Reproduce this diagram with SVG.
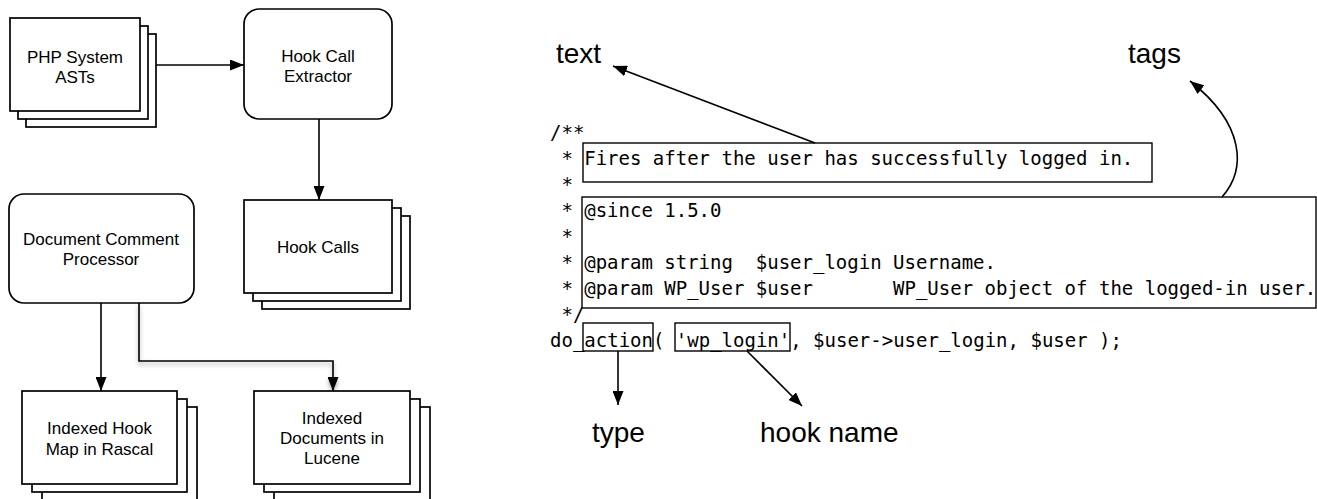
<svg xmlns="http://www.w3.org/2000/svg" width="1317" height="499" viewBox="0 0 1317 499">
<style>
.box{fill:#fff;stroke:#000;stroke-width:1.7}
.node{font-family:"Liberation Sans",Arial,sans-serif;font-size:17px;fill:#000;text-anchor:middle}
.lbl{font-family:"Liberation Sans",Arial,sans-serif;font-size:28px;fill:#000}
.code{font-family:"DejaVu Sans Mono","Liberation Mono",monospace;font-size:19px;fill:#000;white-space:pre}
.cbox{fill:#fff;stroke:#000;stroke-width:1.4}
.conn{fill:none;stroke:#000;stroke-width:1.6}
</style>
<defs>
<marker id="ah" viewBox="0 0 14 11" refX="14" refY="5.5" markerWidth="14" markerHeight="11" markerUnits="userSpaceOnUse" orient="auto">
<path d="M0,0 L14,5.5 L0,11 Z" fill="#000"/>
</marker>
<filter id="sh" x="-20%" y="-20%" width="140%" height="140%">
<feGaussianBlur in="SourceAlpha" stdDeviation="2"/>
<feOffset dx="0" dy="3" result="b"/>
<feComponentTransfer><feFuncA type="linear" slope="0.35"/></feComponentTransfer>
<feMerge><feMergeNode/><feMergeNode in="SourceGraphic"/></feMerge>
</filter>
</defs>
<rect width="1317" height="499" fill="#fff"/>

<g id="connectors">
<line class="conn" x1="156" y1="65" x2="244" y2="65" marker-end="url(#ah)"/>
<line class="conn" x1="319" y1="119" x2="319" y2="200" marker-end="url(#ah)"/>
<line class="conn" x1="244" y1="248" x2="195" y2="248" marker-end="url(#ah)" filter="url(#sh)"/>
<line class="conn" x1="101" y1="303" x2="101" y2="391" marker-end="url(#ah)"/>
<polyline class="conn" points="139,303 139,361 333,361 333,391" marker-end="url(#ah)" filter="url(#sh)"/>
</g>

<g id="php-asts">
<rect class="box" x="26" y="34" width="130" height="93"/>
<rect class="box" x="18" y="26" width="130" height="93"/>
<rect class="box" x="10" y="18" width="130" height="93"/>
<text class="node" x="75" y="63">PHP System</text>
<text class="node" x="75" y="83">ASTs</text>
</g>

<g id="hook-call-extractor">
<rect class="box" x="244" y="9" width="148" height="110" rx="15" ry="15"/>
<text class="node" x="318" y="62">Hook Call</text>
<text class="node" x="318" y="82">Extractor</text>
</g>

<g id="hook-calls">
<rect class="box" x="262" y="216" width="148" height="93"/>
<rect class="box" x="253" y="208" width="148" height="93"/>
<rect class="box" x="244" y="200" width="148" height="93"/>
<text class="node" x="318" y="253">Hook Calls</text>
</g>

<g id="doc-comment-processor">
<rect class="box" x="9" y="194" width="185" height="109" rx="15" ry="15"/>
<text class="node" x="101" y="245">Document Comment</text>
<text class="node" x="101" y="265">Processor</text>
</g>

<g id="indexed-hook-map">
<rect class="box" x="42" y="407" width="155" height="93"/>
<rect class="box" x="32" y="399" width="155" height="93"/>
<rect class="box" x="22" y="391" width="155" height="93"/>
<text class="node" x="99.5" y="434">Indexed Hook</text>
<text class="node" x="99.5" y="455">Map in Rascal</text>
</g>

<g id="indexed-documents">
<rect class="box" x="274" y="407" width="156" height="93"/>
<rect class="box" x="264" y="399" width="156" height="93"/>
<rect class="box" x="254" y="391" width="156" height="93"/>
<text class="node" x="332" y="424">Indexed</text>
<text class="node" x="332" y="444">Documents in</text>
<text class="node" x="332" y="464">Lucene</text>
</g>

<g id="code">
<text class="code" x="550" y="139" xml:space="preserve">/**</text>
<text class="code" x="550" y="165" xml:space="preserve"> *</text>
<text class="code" x="550" y="191" xml:space="preserve"> *</text>
<text class="code" x="550" y="217" xml:space="preserve"> *</text>
<text class="code" x="550" y="243" xml:space="preserve"> *</text>
<text class="code" x="550" y="269" xml:space="preserve"> *</text>
<text class="code" x="550" y="295" xml:space="preserve"> *</text>
<text class="code" x="550" y="321" xml:space="preserve"> */</text>
</g>

<g id="text-box">
<rect class="cbox" x="583" y="143" width="569" height="39"/>
<text class="code" x="584.2" y="165" xml:space="preserve">Fires after the user has successfully logged in.</text>
</g>

<g id="tags-box">
<rect class="cbox" x="582" y="197" width="734" height="111"/>
<text class="code" x="584.2" y="217" xml:space="preserve">@since 1.5.0</text>
<text class="code" x="584.2" y="269" xml:space="preserve">@param string  $user_login Username.</text>
<text class="code" x="584.2" y="295" xml:space="preserve">@param WP_User $user       WP_User object of the logged-in user.</text>
</g>

<g id="do-action">
<rect class="cbox" x="583" y="323" width="70" height="28"/>
<rect class="cbox" x="675" y="323" width="115" height="28"/>
<text class="code" x="550" y="347" xml:space="preserve">do_action( 'wp_login', $user-&gt;user_login, $user );</text>
</g>

<g id="annotation-connectors">
<line class="conn" x1="815" y1="143" x2="613" y2="66" marker-end="url(#ah)"/>
<path class="conn" d="M1222,197 C1246,170 1246,125 1190,81" marker-end="url(#ah)"/>
<line class="conn" x1="618" y1="351" x2="618" y2="405" marker-end="url(#ah)"/>
<line class="conn" x1="747" y1="351" x2="802" y2="406" marker-end="url(#ah)"/>
</g>

<g id="labels">
<text class="lbl" x="556" y="63">text</text>
<text class="lbl" x="1128" y="63">tags</text>
<text class="lbl" x="592" y="442">type</text>
<text class="lbl" x="760" y="442">hook name</text>
</g>
</svg>
